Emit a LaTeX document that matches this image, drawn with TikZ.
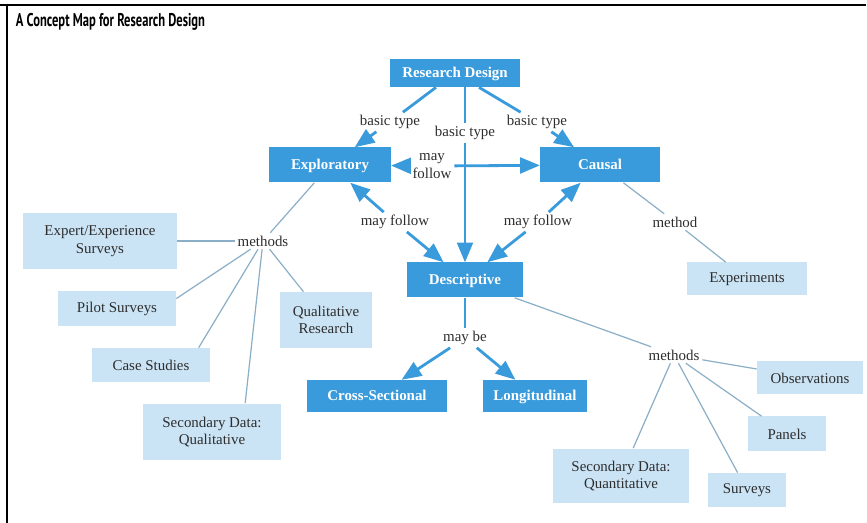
\documentclass[tikz,border=0pt]{standalone}
\usepackage{fontspec}
\setmainfont{Liberation Serif}
\newfontfamily\titlefont[FakeStretch=0.68]{PT Sans}
\usetikzlibrary{arrows}
\definecolor{darkbox}{RGB}{58,155,220}
\definecolor{lightbox}{RGB}{203,228,245}
\definecolor{thinline}{RGB}{140,175,200}
\definecolor{boxtext}{RGB}{45,45,45}
\begin{document}
\begin{tikzpicture}[x=0.02cm,y=-0.02cm]
\tikzstyle{every node}=[font=\fontsize{8.5}{10}\selectfont, inner sep=1.5pt]
\tikzstyle{dark}=[fill=darkbox, text=white, text height=1.6ex, text depth=.4ex, font=\fontsize{8.5}{10}\selectfont\bfseries]
\tikzstyle{light}=[fill=lightbox, text=boxtext, align=center]
\tikzstyle{lbl}=[text=boxtext, align=center]
\tikzstyle{link}=[draw=darkbox, line width=1.6pt, -triangle 45]
\tikzstyle{plain}=[draw=darkbox, line width=1.6pt]
\tikzstyle{thin}=[draw=thinline, line width=0.7pt]
\useasboundingbox (0,0) rectangle (867,523);
\draw[line width=1.2pt] (0,5) -- (866,5);
\draw[line width=1.2pt] (7,5) -- (7,523);
\draw (13,27) node (title) [anchor=base west, font=\titlefont\bfseries\fontsize{10.5}{12}\selectfont] {A Concept Map for Research Design};
\draw (455,73) node (rd) [dark, minimum width=2.6cm, minimum height=0.56cm] {Research Design};
\draw (330,165) node (expl) [dark, minimum width=2.44cm, minimum height=0.7cm] {Exploratory};
\draw (600,165) node (causal) [dark, minimum width=2.4cm, minimum height=0.7cm] {Causal};
\draw (465,280) node (desc) [dark, minimum width=2.34cm, minimum height=0.7cm] {Descriptive};
\draw (377,396) node (cross) [dark, minimum width=2.8cm, minimum height=0.64cm] {Cross-Sectional};
\draw (535,396) node (longi) [dark, minimum width=2.1cm, minimum height=0.64cm] {Longitudinal};
\draw (100,241) node (expert) [light, minimum width=3.08cm, minimum height=1.14cm] {Expert/Experience\\Surveys};
\draw (117,309) node (pilot) [light, minimum width=2.36cm, minimum height=0.7cm] {Pilot Surveys};
\draw (326,320) node (qualres) [light, minimum width=1.84cm, minimum height=1.12cm] {Qualitative\\Research};
\draw (151,365) node (case) [light, minimum width=2.36cm, minimum height=0.68cm] {Case Studies};
\draw (212,432) node (secql) [light, minimum width=2.78cm, minimum height=1.14cm] {Secondary Data:\\Qualitative};
\draw (747,279) node (exper) [light, minimum width=2.4cm, minimum height=0.66cm] {Experiments};
\draw (810,378) node (obs) [light, minimum width=2.12cm, minimum height=0.66cm] {Observations};
\draw (787,434) node (panels) [light, minimum width=1.58cm, minimum height=0.7cm] {Panels};
\draw (747,490) node (surveys) [light, minimum width=1.58cm, minimum height=0.68cm] {Surveys};
\draw (621,476) node (secqn) [light, minimum width=2.74cm, minimum height=1.1cm] {Secondary Data:\\Quantitative};
\draw (390,122) node (bt1) [lbl] {basic type};
\draw (465,133) node (bt2) [lbl] {basic type};
\draw (537,122) node (bt3) [lbl] {basic type};
\draw (432,166) node (mf) [lbl] {may\\follow};
\draw (395,222) node (mfl) [lbl] {may follow};
\draw (538,222) node (mfr) [lbl] {may follow};
\draw (465,338) node (mb) [lbl] {may be};
\draw (263,241) node (m1) [lbl] {methods};
\draw (674,355) node (m2) [lbl] {methods};
\draw (675,222) node (mc) [lbl] {method};
\draw[plain] (rd) -- (bt1);
\draw[link] (bt1) -- (expl);
\draw[plain] (rd) -- (bt3);
\draw[link] (bt3) -- (causal);
\draw[plain] (rd.south -| bt2) -- (bt2);
\draw[link] (bt2) -- (desc);
\draw[link] (mf) -- (expl);
\draw[link] (mf) -- (causal);
\draw[link] (mfl) -- (expl);
\draw[link] (mfl) -- (desc);
\draw[link] (mfr) -- (causal);
\draw[link] (mfr) -- (desc);
\draw[plain] (desc) -- (mb);
\draw[link] (mb) -- (cross);
\draw[link] (mb) -- (longi);
\draw[thin] (expl) -- (m1);
\draw[thin] (m1) -- (expert);
\draw[thin] (m1) -- (pilot.10);
\draw[thin] (m1) -- (case.20);
\draw[thin] (m1) -- (secql.41);
\draw[thin] (m1) -- (qualres);
\draw[thin] (causal) -- (mc);
\draw[thin] (mc) -- (exper);
\draw[thin] (desc) -- (m2);
\draw[thin] (m2) -- (obs);
\draw[thin] (m2) -- (panels);
\draw[thin] (m2) -- (surveys);
\draw[thin] (m2) -- (secqn);
\end{tikzpicture}
\end{document}
